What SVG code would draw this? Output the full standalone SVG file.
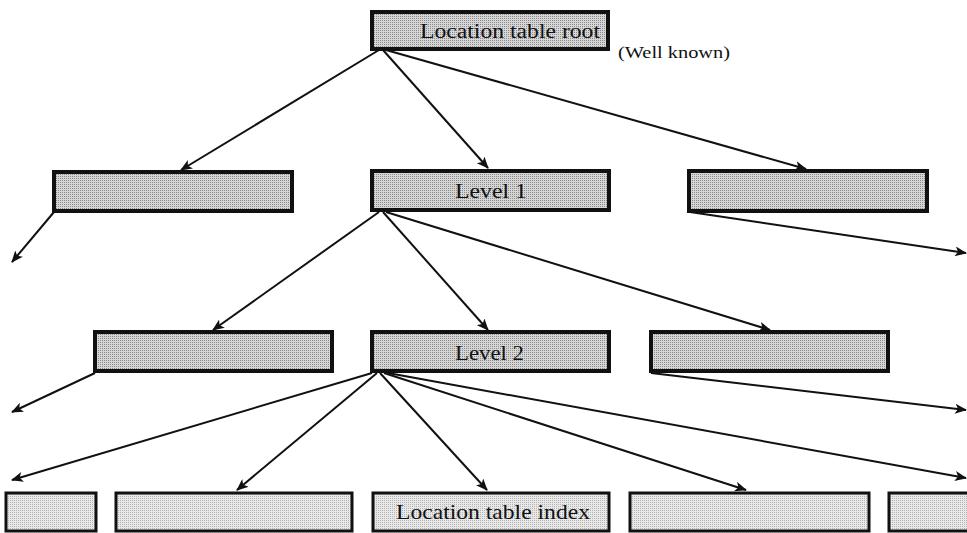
<svg xmlns="http://www.w3.org/2000/svg" width="967" height="533" viewBox="0 0 967 533">
  <style>
    .box { fill: url(#stipple); stroke: #111; stroke-width: 4; }
    .leaf { fill: url(#stippleLight); stroke: #111; stroke-width: 3; }
    .label { font-family: "Liberation Serif", "DejaVu Serif", serif; font-size: 20px; fill: #111; }
    .note { font-family: "Liberation Serif", "DejaVu Serif", serif; font-size: 16px; fill: #111; }
    .edge { stroke: #111; stroke-width: 2; fill: none; marker-end: url(#arrow); }
  </style>
  <defs>
    <pattern id="stipple" width="2" height="2" patternUnits="userSpaceOnUse">
      <rect width="2" height="2" fill="#d6d6d6"/>
      <rect width="1" height="1" fill="#8a8a8a"/>
    </pattern>
    <pattern id="stippleLight" width="2" height="2" patternUnits="userSpaceOnUse">
      <rect width="2" height="2" fill="#e8e8e8"/>
      <rect width="1" height="1" fill="#b4b4b4"/>
    </pattern>
    <marker id="arrow" viewBox="0 0 12 10" refX="11" refY="5" markerWidth="12" markerHeight="10" markerUnits="userSpaceOnUse" orient="auto">
      <path d="M0,0 L12,5 L0,10 L3,5 Z" fill="#111"/>
    </marker>
  </defs>

  <!-- tree edges -->
  <g id="connectors">
    <line class="edge" x1="379" y1="50" x2="181" y2="170"/>
    <line class="edge" x1="383" y1="50" x2="488" y2="168"/>
    <line class="edge" x1="386" y1="50" x2="806" y2="169"/>
    <line class="edge" x1="54" y1="212" x2="12" y2="262"/>
    <line class="edge" x1="690" y1="212" x2="966" y2="253"/>
    <line class="edge" x1="379" y1="212" x2="213" y2="330"/>
    <line class="edge" x1="383" y1="212" x2="488" y2="330"/>
    <line class="edge" x1="386" y1="212" x2="770" y2="330"/>
    <line class="edge" x1="95" y1="373" x2="12" y2="412"/>
    <line class="edge" x1="651" y1="373" x2="966" y2="410"/>
    <line class="edge" x1="372" y1="373" x2="12" y2="480"/>
    <line class="edge" x1="377" y1="373" x2="237" y2="490"/>
    <line class="edge" x1="380" y1="373" x2="487" y2="490"/>
    <line class="edge" x1="384" y1="373" x2="746" y2="490"/>
    <line class="edge" x1="388" y1="373" x2="966" y2="478"/>
  </g>

  <g id="root">
    <rect class="box" x="372" y="12" width="236" height="37"/>
    <text class="label" x="420" y="38" textLength="180" lengthAdjust="spacingAndGlyphs">Location table root</text>
  </g>
  <g id="well-known">
    <text class="note" x="618" y="58" textLength="112" lengthAdjust="spacingAndGlyphs">(Well known)</text>
  </g>

  <g id="l1-left">
    <rect class="box" x="54" y="172" width="238" height="39"/>
  </g>
  <g id="level1">
    <rect class="box" x="372" y="171" width="237" height="39"/>
    <text class="label" x="455" y="198" textLength="72" lengthAdjust="spacingAndGlyphs">Level 1</text>
  </g>
  <g id="l1-right">
    <rect class="box" x="689" y="171" width="238" height="40"/>
  </g>

  <g id="l2-left">
    <rect class="box" x="95" y="332" width="237" height="39"/>
  </g>
  <g id="level2">
    <rect class="box" x="372" y="332" width="237" height="39"/>
    <text class="label" x="455" y="360" textLength="69" lengthAdjust="spacingAndGlyphs">Level 2</text>
  </g>
  <g id="l2-right">
    <rect class="box" x="651" y="332" width="237" height="39"/>
  </g>

  <g id="leaf-a">
    <rect class="leaf" x="6" y="493" width="90" height="38"/>
  </g>
  <g id="leaf-b">
    <rect class="leaf" x="116" y="493" width="236" height="38"/>
  </g>
  <g id="index">
    <rect class="leaf" x="373" y="493" width="236" height="38"/>
    <text class="label" x="396" y="519" style="font-size:21px" textLength="194" lengthAdjust="spacingAndGlyphs">Location table index</text>
  </g>
  <g id="leaf-d">
    <rect class="leaf" x="630" y="493" width="239" height="38"/>
  </g>
  <g id="leaf-e">
    <rect class="leaf" x="889" y="493" width="90" height="38"/>
  </g>
</svg>
